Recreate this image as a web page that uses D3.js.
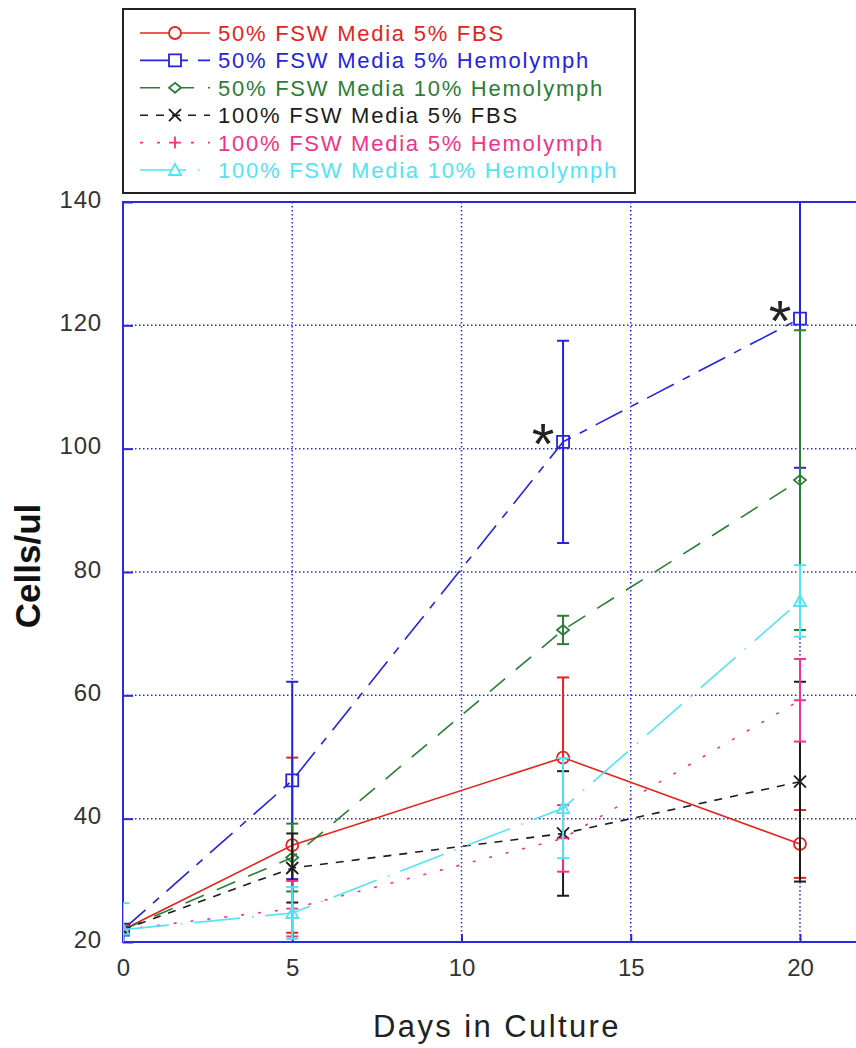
<!DOCTYPE html>
<html>
<head>
<meta charset="utf-8">
<script src="https://cdn.jsdelivr.net/npm/d3@7"></script>
<style>
  body { margin: 0; background: #fff; }
  svg { display: block; font-family: "Liberation Sans", Arial, Helvetica, sans-serif; }
</style>
</head>
<body>
<svg id="chart" width="856" height="1048"></svg>
<script>
// Days sampled and tick values
const days = [0, 5, 13, 20];
const xTicks = [0, 5, 10, 15, 20];
const yTicks = [20, 40, 60, 80, 100, 120, 140];

// Series names (legend order)
const seriesNames = [
  "50% FSW Media 5% FBS",
  "50% FSW Media 5% Hemolymph",
  "50% FSW Media 10% Hemolymph",
  "100% FSW Media 5% FBS",
  "100% FSW Media 5% Hemolymph",
  "100% FSW Media 10% Hemolymph"
];

// Means and error bar half-widths
const fsw50Fbs5 = [22, 35.7, 49.9, 35.9];
const fsw50Fbs5Err = [0.7, 14.2, 13.0, 5.5];
const fsw50Hemo5 = [22, 46.2, 101.1, 121.1];
const fsw50Hemo5Err = [0.7, 16.0, 16.4, 24.2];
const fsw50Hemo10 = [22, 33.7, 70.6, 94.9];
const fsw50Hemo10Err = [0.7, 5.5, 2.3, 24.3];
const fsw100Fbs5 = [22, 32.0, 37.6, 46.0];
const fsw100Fbs5Err = [0.7, 5.6, 10.1, 16.2];
const fsw100Hemo5 = [22, 25.4, 36.8, 59.2];
const fsw100Hemo5Err = [0.7, 4.5, 5.4, 6.7];
const fsw100Hemo10 = [22, 24.7, 41.7, 75.3];
const fsw100Hemo10Err = [4.3, 4.2, 8.1, 5.8];

// Significance marks: which day / which series
const starDays = [13, 20];
const starSeries = 1;

// Plot frame
const plot = {left: 123, top: 202, bottom: 942};
const x = d3.scaleLinear().domain([0, 22]).range([plot.left, plot.left + 22 * 33.85]);
const y = d3.scaleLinear().domain([20, 140]).range([plot.bottom, plot.top]);

const values = [fsw50Fbs5, fsw50Hemo5, fsw50Hemo10, fsw100Fbs5, fsw100Hemo5, fsw100Hemo10];
const errors = [fsw50Fbs5Err, fsw50Hemo5Err, fsw50Hemo10Err, fsw100Fbs5Err, fsw100Hemo5Err, fsw100Hemo10Err];
const styles = [
  {color: "#e3241e", dash: null, marker: "circle"},
  {color: "#2424dc", dash: "30,10,8,10", marker: "square"},
  {color: "#2b7d38", dash: "20,14", marker: "diamond"},
  {color: "#1c1c1c", dash: "8,8", marker: "x"},
  {color: "#f0328c", dash: "3,14", marker: "plus"},
  {color: "#52e4f4", dash: "46,12,1.5,12", marker: "triangle"}
];

const series = seriesNames.map((name, i) => ({
  name,
  ...styles[i],
  points: days.map((d, j) => ({day: d, value: values[i][j], err: errors[i][j]}))
}));

// Marker outlines, centred on 0,0
function markerPath(type) {
  const s = 6;
  switch (type) {
    case "circle": return d3.arc()({innerRadius: 0, outerRadius: s, startAngle: 0, endAngle: 2 * Math.PI});
    case "square": return `M${-s},${-s}H${s}V${s}H${-s}Z`;
    case "diamond": return `M0,${-5}L${s},0L0,5L${-s},0Z`;
    case "x": return `M${-s},${-s}L${s},${s}M${-s},${s}L${s},${-s}`;
    case "plus": return `M${-s},0H${s}M0,${-s}V${s}`;
    case "triangle": return `M0,${-s}L${s},${s - 1}H${-s}Z`;
  }
}

const svg = d3.select("#chart");
const gridColor = "#2a2ae0";

svg.append("defs").append("clipPath")
  .attr("id", "plot-clip")
  .append("rect")
  .attr("x", plot.left)
  .attr("y", plot.top)
  .attr("width", x(22) - plot.left)
  .attr("height", plot.bottom - plot.top);

// Grid lines (dotted blue)
svg.append("g")
  .selectAll("line.hgrid")
  .data(yTicks.slice(1, -1))
  .join("line")
  .attr("x1", plot.left).attr("x2", x(22))
  .attr("y1", d => y(d)).attr("y2", d => y(d))
  .attr("stroke", gridColor)
  .attr("stroke-width", 1.5)
  .attr("stroke-dasharray", "1.5,2.5");

svg.append("g")
  .selectAll("line.vgrid")
  .data(xTicks.slice(1))
  .join("line")
  .attr("x1", d => x(d)).attr("x2", d => x(d))
  .attr("y1", plot.top).attr("y2", plot.bottom)
  .attr("stroke", gridColor)
  .attr("stroke-width", 1.5)
  .attr("stroke-dasharray", "1.5,2.5");

// Axes
const yAxis = svg.append("g")
  .attr("transform", `translate(${plot.left},0)`)
  .call(d3.axisLeft(y).tickValues(yTicks).tickSizeInner(-10).tickSizeOuter(0).tickPadding(21));
const xAxis = svg.append("g")
  .attr("transform", `translate(0,${plot.bottom})`)
  .call(d3.axisBottom(x).tickValues(xTicks).tickSizeInner(-8).tickSizeOuter(0).tickPadding(17));

[yAxis, xAxis].forEach(g => {
  g.select(".domain").remove();
  g.selectAll(".tick line").attr("stroke", gridColor).attr("stroke-width", 2);
  g.selectAll(".tick text")
    .attr("fill", "#333")
    .attr("font-size", 24)
    .attr("font-family", "Liberation Sans, Arial, sans-serif");
});
yAxis.selectAll(".tick text").attr("dy", "0.22em").attr("letter-spacing", 0.8);

// Frame (right side runs off the picture)
svg.append("rect")
  .attr("x", plot.left)
  .attr("y", plot.top)
  .attr("width", x(22) - plot.left)
  .attr("height", plot.bottom - plot.top)
  .attr("fill", "none")
  .attr("stroke", gridColor)
  .attr("stroke-width", 2);

// Series
const data = svg.append("g").attr("clip-path", "url(#plot-clip)");
const line = d3.line().x(d => x(d.day)).y(d => y(d.value));

series.forEach(s => {
  const g = data.append("g");

  g.append("path")
    .datum(s.points)
    .attr("fill", "none")
    .attr("stroke", s.color)
    .attr("stroke-width", 1.6)
    .attr("stroke-dasharray", s.dash)
    .attr("d", line);

  const bars = g.selectAll(".err")
    .data(s.points)
    .join("g")
    .attr("stroke", s.color)
    .attr("stroke-width", 2);
  bars.append("line")
    .attr("x1", d => x(d.day)).attr("x2", d => x(d.day))
    .attr("y1", d => y(d.value - d.err)).attr("y2", d => y(d.value + d.err));
  [-1, 1].forEach(sign => {
    bars.append("line")
      .attr("x1", d => x(d.day) - 6).attr("x2", d => x(d.day) + 6)
      .attr("y1", d => y(d.value + sign * d.err)).attr("y2", d => y(d.value + sign * d.err));
  });

  g.selectAll(".mark")
    .data(s.points)
    .join("path")
    .attr("transform", d => `translate(${x(d.day)},${y(d.value)})`)
    .attr("d", markerPath(s.marker))
    .attr("fill", "none")
    .attr("stroke", s.color)
    .attr("stroke-width", 1.8);
});

// Significance asterisks
svg.append("g")
  .selectAll("text")
  .data(starDays.map(d => series[starSeries].points.find(p => p.day === d)))
  .join("text")
  .attr("x", d => x(d.day) - 20)
  .attr("y", d => y(d.value) + 22)
  .attr("text-anchor", "middle")
  .attr("font-size", 58)
  .attr("fill", "#222")
  .text("*");

// Axis titles
svg.append("text")
  .attr("transform", "translate(40,566) rotate(-90)")
  .attr("text-anchor", "middle")
  .attr("font-size", 35)
  .attr("font-weight", "bold")
  .attr("fill", "#111")
  .text("Cells/ul");

svg.append("text")
  .attr("x", 497)
  .attr("y", 1037)
  .attr("text-anchor", "middle")
  .attr("font-size", 31)
  .attr("letter-spacing", 2.4)
  .attr("fill", "#222")
  .text("Days in Culture");

// Legend
const legend = svg.append("g");
legend.append("rect")
  .attr("x", 123).attr("y", 9)
  .attr("width", 512).attr("height", 184)
  .attr("fill", "#fff")
  .attr("stroke", "#222")
  .attr("stroke-width", 2);

const rows = legend.selectAll(".row")
  .data(series)
  .join("g")
  .attr("transform", (d, i) => `translate(0,${33 + i * 27.4})`);
rows.append("line")
  .attr("x1", 140).attr("x2", 210)
  .attr("stroke", d => d.color)
  .attr("stroke-width", 1.6)
  .attr("stroke-dasharray", d => d.dash);
rows.append("path")
  .attr("transform", "translate(175,0)")
  .attr("d", d => markerPath(d.marker))
  .attr("fill", "#fff")
  .attr("stroke", d => d.color)
  .attr("stroke-width", 1.8);
rows.append("text")
  .attr("x", 218)
  .attr("y", 8)
  .attr("font-size", 22)
  .attr("letter-spacing", 1.75)
  .attr("fill", d => d.color)
  .text(d => d.name);
</script>
</body>
</html>
